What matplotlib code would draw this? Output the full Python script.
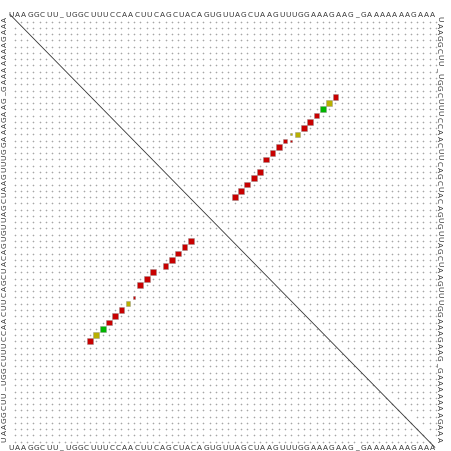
import matplotlib.pyplot as plt
from matplotlib.patches import Rectangle

# Alignment consensus sequence ("_" marks a gap)
sequence = "UAAGGCUU_UGGCUUUCCAACUUCAGCUACAGUGUUAGCUAAGUUUGGAAAGAAG_GAAAAAAAGAAA"

# Upper-right triangle: pair (i, j), pair probability, number of pair types
upper_i = [13, 14, 15, 16, 17, 18, 19, 19, 20, 20, 21, 22, 23, 25, 26, 27, 28, 29]
upper_j = [52, 51, 50, 49, 48, 47, 46, 45, 45, 44, 43, 42, 41, 40, 39, 38, 37, 36]
upper_p = [1.0, 1.0, 1.0, 1.0, 1.0, 1.0, 0.75, 0.14, 0.14, 0.55,
           1.0, 1.0, 1.0, 1.0, 1.0, 1.0, 1.0, 1.0]
upper_types = [1, 2, 3, 1, 1, 1, 2, 2, 1, 1, 1, 1, 1, 1, 1, 1, 1, 1]

# Lower-left triangle: the same stem, mirrored
lower_i = [13, 14, 15, 16, 17, 18, 19, 20, 21, 22, 23, 25, 26, 27, 28, 29]
lower_j = [52, 51, 50, 49, 48, 47, 46, 45, 43, 42, 41, 40, 39, 38, 37, 36]
lower_p = [1.0, 1.0, 1.0, 1.0, 1.0, 1.0, 0.6, 0.14,
           1.0, 1.0, 1.0, 1.0, 1.0, 1.0, 1.0, 1.0]
lower_types = [1, 2, 3, 1, 1, 1, 2, 1, 1, 1, 1, 1, 1, 1, 1, 1]

type_colors = {1: '#c80000', 2: '#b8b000', 3: '#00b400'}

n = len(sequence)

fig = plt.figure(figsize=(4.52, 4.51), dpi=100)
# axes placed so that one cell is ~6.3 px wide
ax = fig.add_axes([11.4 / 452, 6.2 / 451, 427.8 / 452, 426.4 / 451])
ax.set_xlim(0.5, n + 0.5)
ax.set_ylim(n + 0.5, 0.5)
ax.axis('off')

# faint grey crosses on every cell
xs = [i for i in range(1, n + 1) for j in range(1, n + 1) if i != j]
ys = [j for i in range(1, n + 1) for j in range(1, n + 1) if i != j]
ax.plot(xs, ys, '+', color='#a6a6a6', markersize=1.8, markeredgewidth=0.4,
        linestyle='none', zorder=1)

# main diagonal
ax.plot([0.3, n - 0.2], [-0.1, n + 0.9], color='#333333', lw=0.6,
        clip_on=False, zorder=2)


def draw_squares(cols, rows, probs, types):
    """Draw one square per pair, side scaled by sqrt(probability)."""
    for x, y, p, t in zip(cols, rows, probs, types):
        side = 0.92 * p ** 0.5
        ax.add_patch(Rectangle((x - side / 2, y - side / 2), side, side,
                               facecolor=type_colors[t],
                               edgecolor=(0.55, 0.55, 0.55, 0.7), lw=0.4,
                               zorder=3))


draw_squares(upper_j, upper_i, upper_p, upper_types)
draw_squares(lower_i, lower_j, lower_p, lower_types)

# sequence along the four sides
font = dict(fontsize=5.3, color='#333333', family='DejaVu Sans',
            ha='center', va='center')
for k, base in enumerate(sequence, start=1):
    ax.text(k - 0.55, -0.05, base, clip_on=False, **font)
    ax.text(k - 0.55, n + 0.95, base, clip_on=False, **font)
    ax.text(-0.6, n + 1 - k - 0.4, base, rotation=90, clip_on=False, **font)
    ax.text(n + 0.45, k - 0.4, base, rotation=-90, clip_on=False, **font)

fig.savefig('out.png', dpi=100)
